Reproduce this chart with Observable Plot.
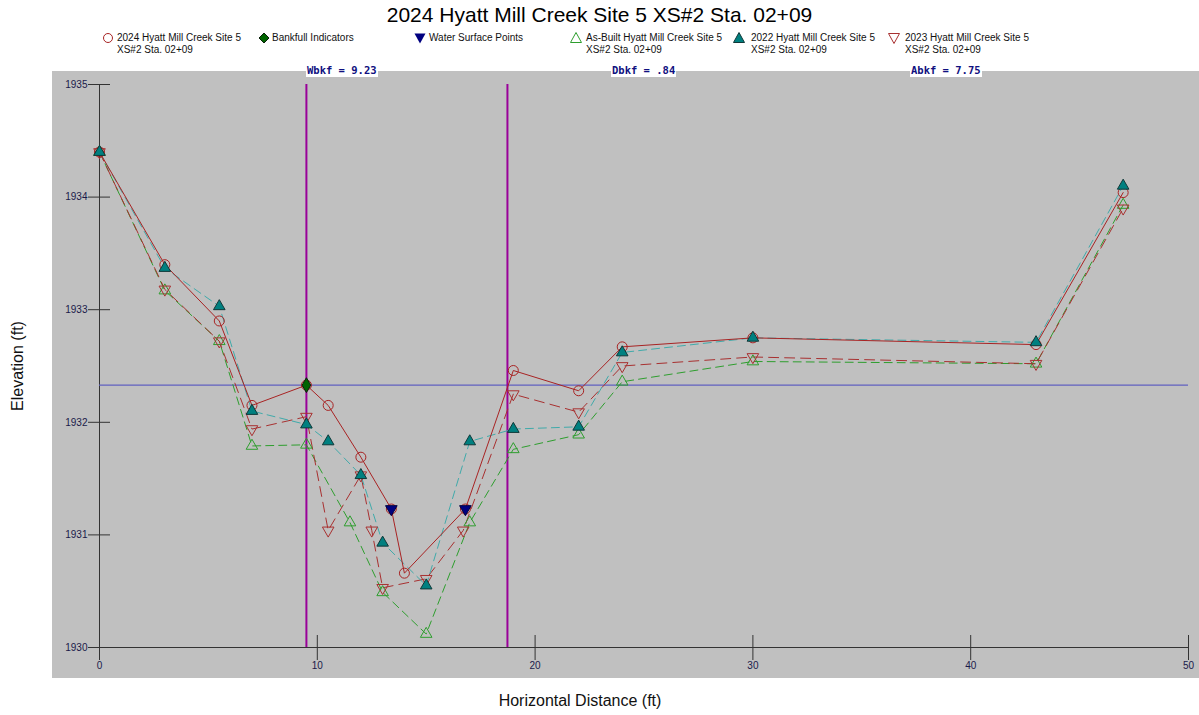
<!DOCTYPE html>
<html>
<head>
<meta charset="utf-8">
<script src="https://cdn.jsdelivr.net/npm/d3@7"></script>
<script src="https://cdn.jsdelivr.net/npm/@observablehq/plot@0.6"></script>
<style>
  body { margin: 0; background: #fff; font-family: "Liberation Sans", Arial, sans-serif; }
  #wrap { position: relative; width: 1199px; height: 715px; overflow: hidden; }
  #title { position: absolute; left: 0; width: 1199px; top: 3px; text-align: center; font-size: 21px; color: #000; }
  #panel { position: absolute; left: 52px; top: 71px; width: 1147px; height: 607px; background: #c0c0c0; }
  #chart { position: absolute; left: 0; top: 60px; }
  .leg { position: absolute; font-size: 10px; line-height: 12px; color: #111; white-space: nowrap; }
  .sym { position: absolute; }
  .stat { position: absolute; top: 64px; background: #fff; color: #101080; font: bold 10.5px "DejaVu Sans Mono", monospace; line-height: 13px; padding: 0 1px; white-space: pre; }
  #xlab { position: absolute; left: 0; width: 1160px; text-align: center; top: 692px; font-size: 16px; color: #111; }
  #ylab { position: absolute; left: 18px; top: 366px; font-size: 16px; color: #111; transform: translate(-50%, -50%) rotate(-90deg); white-space: nowrap; }
</style>
</head>
<body>
<div id="wrap">
  <div id="panel"></div>
  <div id="title">2024 Hyatt Mill Creek Site 5 XS#2 Sta. 02+09</div>
  <div id="chart"></div>
  <div id="xlab">Horizontal Distance (ft)</div>
  <div id="ylab">Elevation (ft)</div>
</div>
<script>
// Cross-section survey: station (ft) and elevation (ft) for each survey year
const station2024 = [0, 3, 5.5, 7, 9.5, 10.5, 12, 13.4, 14, 16.8, 19, 22, 24, 30, 43, 47];
const elev2024    = [1934.40, 1933.40, 1932.90, 1932.15, 1932.33, 1932.15, 1931.69, 1931.23, 1930.66, 1931.23, 1932.46, 1932.28, 1932.67, 1932.75, 1932.69, 1934.04];

const stationAsBuilt = [0, 3, 5.5, 7, 9.5, 11.5, 13, 15, 17, 19, 22, 24, 30, 43, 47];
const elevAsBuilt    = [1934.40, 1933.17, 1932.72, 1931.79, 1931.80, 1931.11, 1930.49, 1930.12, 1931.11, 1931.76, 1931.89, 1932.36, 1932.54, 1932.52, 1933.93];

const station2022 = [0, 3, 5.5, 7, 9.5, 10.5, 12, 13, 15, 17, 19, 22, 24, 30, 43, 47];
const elev2022    = [1934.40, 1933.37, 1933.03, 1932.10, 1931.98, 1931.83, 1931.53, 1930.93, 1930.55, 1931.83, 1931.94, 1931.96, 1932.62, 1932.75, 1932.71, 1934.10];

const station2023 = [0, 3, 5.5, 7, 9.5, 10.5, 12, 12.5, 13, 15, 16.7, 19, 22, 24, 30, 43, 47];
const elev2023    = [1934.40, 1933.18, 1932.72, 1931.94, 1932.05, 1931.04, 1931.53, 1931.04, 1930.53, 1930.61, 1931.04, 1932.25, 1932.09, 1932.50, 1932.58, 1932.52, 1933.90];

// Water surface shots and bankfull indicator
const wsStation = [13.4, 16.8];
const wsElev    = [1931.23, 1931.23];
const bkfStation = [9.5];
const bkfElev    = [1932.33];

// Bankfull summary values
const bkfLeft = 9.5;
const bkfWidth = 9.23;
const bkfDepth = 0.84;
const bkfArea = 7.75;
const bkfStats = [["Wbkf", "9.23", 306], ["Dbkf", ".84", 611], ["Abkf", "7.75", 910]];

const xTicks = [0, 10, 20, 30, 40, 50];
const yTicks = [1930, 1931, 1932, 1933, 1934, 1935];

// Legend entries
const legendNames = [
  ["2024 Hyatt Mill Creek Site 5", "XS#2 Sta. 02+09"],
  ["Bankfull Indicators"],
  ["Water Surface Points"],
  ["As-Built Hyatt Mill Creek Site 5", "XS#2 Sta. 02+09"],
  ["2022 Hyatt Mill Creek Site 5", "XS#2 Sta. 02+09"],
  ["2023 Hyatt Mill Creek Site 5", "XS#2 Sta. 02+09"]
];

const C2024 = "#a82323", CAB = "#2e9e2e", C2022line = "#40aaaa", C2022 = "#008080", C2023 = "#a83030";
const CWS = "#000080", CBKF = "#006400";

const toRows = (xs, ys) => xs.map((x, i) => ({x, y: ys[i]}));
const s2024 = toRows(station2024, elev2024);
const sAB = toRows(stationAsBuilt, elevAsBuilt);
const s2022 = toRows(station2022, elev2022);
const s2023 = toRows(station2023, elev2023);
const ws = toRows(wsStation, wsElev);
const bkf = toRows(bkfStation, bkfElev);

const chart = Plot.plot({
  width: 1199,
  height: 655,
  marginLeft: 99,
  marginRight: 11,
  marginTop: 24,
  marginBottom: 68,
  x: {domain: [0, 50]},
  y: {domain: [1930, 1935]},
  style: {background: "transparent", fontFamily: "'Liberation Sans', Arial, sans-serif", fontSize: "10px", color: "#1a1a4a", overflow: "visible"},
  marks: [
    // axis lines
    Plot.ruleX([0], {stroke: "#333", strokeWidth: 1}),
    Plot.ruleY([1930], {stroke: "#333", strokeWidth: 1}),
    // crossing tick marks and labels
    Plot.axisY({ticks: yTicks, tickSize: 22, dx: 11, tickFormat: () => "", label: null, stroke: "#333"}),
    Plot.axisY({ticks: yTicks, tickSize: 0, tickPadding: 12, tickFormat: d => String(d), label: null}),
    Plot.axisX({ticks: xTicks, tickSize: 25, dy: -12, tickFormat: () => "", label: null, stroke: "#333"}),
    Plot.axisX({ticks: xTicks, tickSize: 0, tickPadding: 14, tickFormat: d => String(d), label: null}),
    // bankfull stage and width
    Plot.ruleY(bkfElev, {stroke: "#6060c0", strokeWidth: 1.3}),
    Plot.ruleX([bkfLeft, bkfLeft + bkfWidth], {stroke: "#990099", strokeWidth: 2}),
    // survey lines
    Plot.line(sAB, {x: "x", y: "y", stroke: CAB, strokeWidth: 1, strokeDasharray: "8,5"}),
    Plot.line(s2023, {x: "x", y: "y", stroke: C2023, strokeWidth: 1, strokeDasharray: "10,6"}),
    Plot.line(s2022, {x: "x", y: "y", stroke: C2022line, strokeWidth: 1, strokeDasharray: "8,5"}),
    Plot.line(s2024, {x: "x", y: "y", stroke: C2024, strokeWidth: 1}),
    // survey points
    Plot.dot(sAB, {x: "x", y: "y", symbol: "triangle", r: 4.3, stroke: CAB, fill: "none", strokeWidth: 1}),
    Plot.dot(s2023, {x: "x", y: "y", symbol: "triangle", rotate: 180, r: 4.3, stroke: C2023, fill: "none", strokeWidth: 1}),
    Plot.dot(s2024, {x: "x", y: "y", symbol: "circle", r: 5, stroke: C2024, fill: "none", strokeWidth: 1}),
    Plot.dot(s2022, {x: "x", y: "y", symbol: "triangle", r: 4.3, stroke: "#103838", fill: C2022, strokeWidth: 1}),
    Plot.dot(ws, {x: "x", y: "y", symbol: "triangle", rotate: 180, r: 4.3, stroke: "#000040", fill: CWS, strokeWidth: 1}),
    Plot.dot(bkf, {x: "x", y: "y", symbol: "diamond", r: 4.5, stroke: "#0a200a", fill: CBKF, strokeWidth: 1})
  ]
});
document.getElementById("chart").appendChild(chart);

// Legend row above the panel
const wrap = document.getElementById("wrap");
const legendPos = [[108, 117], [264, 272], [420, 429], [576, 586], [739, 751], [894, 905]];
const legendSym = [
  `<circle cx="7" cy="7" r="4.5" fill="none" stroke="${C2024}"/>`,
  `<path d="M7 2 L12 7 L7 12 L2 7Z" fill="${CBKF}" stroke="#0a200a"/>`,
  `<path d="M1.5 2.5 L12.5 2.5 L7 12.5Z" fill="${CWS}"/>`,
  `<path d="M7 1.5 L12.5 11.5 L1.5 11.5Z" fill="none" stroke="${CAB}"/>`,
  `<path d="M7 1.5 L12.5 11.5 L1.5 11.5Z" fill="${C2022}" stroke="#103838"/>`,
  `<path d="M1.5 2.5 L12.5 2.5 L7 12.5Z" fill="none" stroke="${C2023}"/>`
];
legendNames.forEach((lines, i) => {
  const [sx, tx] = legendPos[i];
  const s = document.createElement("div");
  s.className = "sym";
  s.style.left = (sx - 7) + "px";
  s.style.top = (38 - 7) + "px";
  s.innerHTML = `<svg width="14" height="14">${legendSym[i]}</svg>`;
  wrap.appendChild(s);
  const t = document.createElement("div");
  t.className = "leg";
  t.style.left = tx + "px";
  t.style.top = "32px";
  t.innerHTML = lines.join("<br>");
  wrap.appendChild(t);
});

// Bankfull statistics across the top of the panel
bkfStats.forEach(([name, val, left]) => {
  const d = document.createElement("div");
  d.className = "stat";
  d.style.left = left + "px";
  d.textContent = `${name} = ${val}`;
  wrap.appendChild(d);
});
</script>
</body>
</html>
